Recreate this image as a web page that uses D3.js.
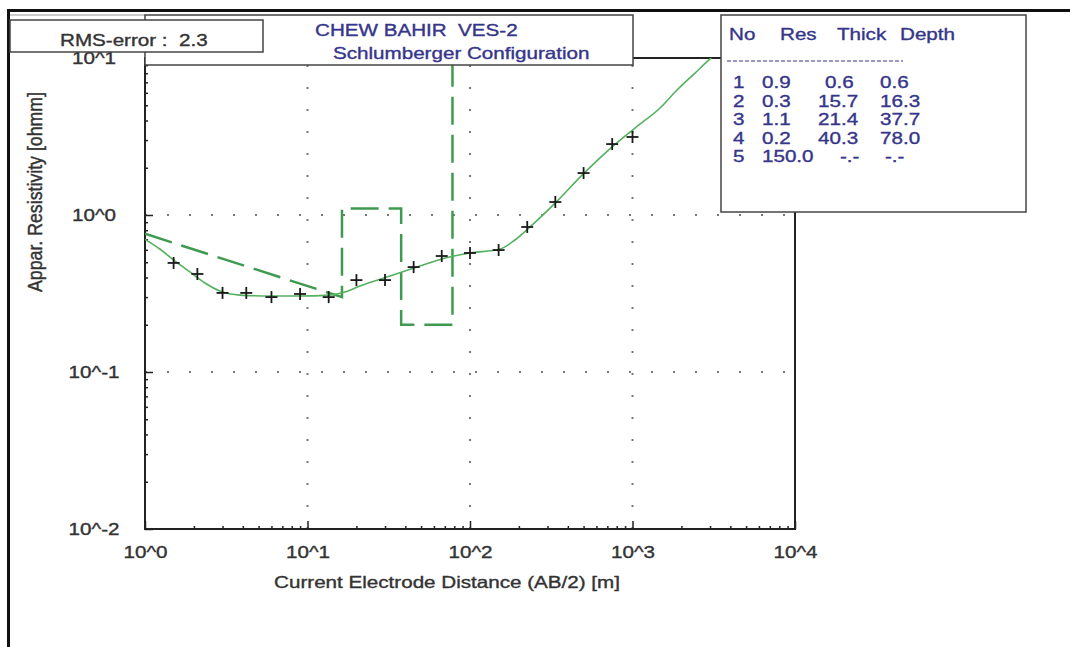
<!DOCTYPE html>
<html lang="en">
<head>
<meta charset="UTF-8">
<title>VES-2</title>
<style>
  body { margin: 0; background: #fff; }
  text { font-family: "Liberation Sans", Arial, sans-serif; font-size: 16.5px; white-space: pre; stroke-width: 0.35px; }
</style>
</head>
<body>
<svg></svg>
<script src="https://d3js.org/d3.v7.min.js"></script>
<script>
// measured sounding: AB/2 [m] and apparent resistivity [ohmm]
var abDist = [1.5, 2.1, 3, 4.2, 6, 9, 13.5, 20, 30, 45, 67, 100, 150, 225, 335, 500, 750, 1000];
var appRes = [0.495, 0.421, 0.319, 0.319, 0.300, 0.314, 0.300, 0.385, 0.385, 0.466, 0.548, 0.573, 0.598, 0.839, 1.21, 1.85, 2.83, 3.14];

// calculated model curve
var fitDist = [1, 1.24, 1.53, 1.89, 2.34, 2.89, 3.84, 5.88, 9, 13.7, 17, 21, 32.2, 49.2, 70.2, 100, 153, 189, 234, 334, 496, 759, 1036, 1477, 1879, 2426, 3000, 3710];
var fitRes = [0.70, 0.605, 0.509, 0.434, 0.369, 0.328, 0.309, 0.305, 0.305, 0.309, 0.323, 0.353, 0.409, 0.473, 0.532, 0.573, 0.607, 0.693, 0.839, 1.19, 1.82, 2.75, 3.58, 4.80, 6.25, 8.02, 9.86, 11.9];

// layer table
var layerNo = [1, 2, 3, 4, 5];
var layerRes = [0.9, 0.3, 1.1, 0.2, 150.0];
var layerThick = [0.6, 15.7, 21.4, 40.3, null];
var layerDepth = [0.6, 16.3, 37.7, 78.0, null];

var xMajor = [1, 10, 100, 1000, 10000];
var yMajor = [0.01, 0.1, 1, 10];
var rmsError = 2.3;

var W = 1070, H = 647;
var svg = d3.select('svg').attr('width', W).attr('height', H);
svg.append('rect').attr('width', W).attr('height', H).attr('fill', '#fff');

var pL = 145, pR = 795, pT = 58, pB = 529;
var x = d3.scaleLog().domain([1, 10000]).range([pL, pR]);
var y = d3.scaleLog().domain([0.01, 10]).range([pB, pT]);

var ink = '#333', navy = '#35358a';
var SX = 'scale(1.25,1)';

function txt(g, tx, ty, s, anchor, color) {
    return g.append('text')
        .attr('transform', 'translate(' + tx + ',' + ty + ') ' + SX)
        .attr('text-anchor', anchor || 'start')
        .attr('fill', color || ink).attr('stroke', color || ink)
        .text(s);
}

// outer window frame
svg.append('line').attr('x1', 8).attr('x2', W).attr('y1', 10.5).attr('y2', 10.5).attr('stroke', '#111').attr('stroke-width', 3);
svg.append('line').attr('x1', 8.5).attr('x2', 8.5).attr('y1', 9).attr('y2', H).attr('stroke', '#111').attr('stroke-width', 3);
svg.append('line').attr('x1', 10).attr('x2', pL).attr('y1', 15).attr('y2', 15).attr('stroke', '#999').attr('stroke-width', 1);

// dotted grid
var grid = svg.append('g').attr('stroke', '#777').attr('stroke-width', 2).attr('stroke-dasharray', '2,20');
grid.selectAll('.gx').data(xMajor.slice(1, -1)).enter().append('line')
    .attr('x1', d => x(d)).attr('x2', d => x(d)).attr('y1', pB).attr('y2', pT);
grid.selectAll('.gy').data(yMajor.slice(1, -1)).enter().append('line')
    .attr('x1', pL).attr('x2', pR).attr('y1', d => y(d)).attr('y2', d => y(d));

// minor ticks
var xMinor = x.ticks().filter(d => xMajor.indexOf(d) < 0);
var yMinor = y.ticks().filter(d => yMajor.indexOf(d) < 0);

var xm = svg.append('g').attr('transform', 'translate(0,' + pB + ')')
    .call(d3.axisBottom(x).tickValues(xMinor).tickSizeInner(-3).tickSizeOuter(0).tickFormat(''));
var ym = svg.append('g').attr('transform', 'translate(' + pL + ',0)')
    .call(d3.axisLeft(y).tickValues(yMinor).tickSizeInner(-3).tickSizeOuter(0).tickFormat(''));

var fmt = d => '10^' + Math.round(Math.log10(d));
var xa = svg.append('g').attr('transform', 'translate(0,' + pB + ')')
    .call(d3.axisBottom(x).tickValues(xMajor).tickSizeInner(-8).tickSizeOuter(0).tickPadding(17).tickFormat(fmt));
var ya = svg.append('g').attr('transform', 'translate(' + pL + ',0)')
    .call(d3.axisLeft(y).tickValues(yMajor).tickSizeInner(-8).tickSizeOuter(0).tickFormat(fmt));

[xm, ym, xa, ya].forEach(g => {
    g.select('.domain').remove();
    g.selectAll('line').attr('stroke', '#222').attr('stroke-width', 1.5);
    g.selectAll('text').attr('font-family', null).attr('font-size', null).attr('fill', ink).attr('stroke', ink);
});
xa.selectAll('text').attr('transform', SX);
ya.selectAll('text').attr('text-anchor', 'middle').attr('x', -51 / 1.25).attr('dy', '0.36em').attr('transform', SX);

// plot frame
svg.append('rect').attr('x', pL).attr('y', pT).attr('width', pR - pL).attr('height', pB - pT)
    .attr('fill', 'none').attr('stroke', '#222').attr('stroke-width', 2);

// curves, clipped to plot
svg.append('clipPath').attr('id', 'clip').append('rect')
    .attr('x', pL).attr('y', pT).attr('width', pR - pL).attr('height', pB - pT);
var plot = svg.append('g').attr('clip-path', 'url(#clip)');

// interpreted layer model (dashed)
var model = [[layerDepth[0], layerRes[0]]];
for (var i = 1; i < layerNo.length - 1; i++) {
    model.push([layerDepth[i], layerRes[i]]);
    model.push([layerDepth[i], layerRes[i + 1]]);
}
plot.append('path').datum(model)
    .attr('d', d3.line().x(d => x(d[0])).y(d => y(d[1])))
    .attr('fill', 'none').attr('stroke', '#3f9a50').attr('stroke-width', 2.5).attr('stroke-dasharray', '28,10');

// calculated curve
plot.append('path').datum(fitDist.map((d, i) => [d, fitRes[i]]))
    .attr('d', d3.line().x(d => x(d[0])).y(d => y(d[1])).curve(d3.curveMonotoneX))
    .attr('fill', 'none').attr('stroke', '#55b060').attr('stroke-width', 1.6);

// field data crosses
var crosses = svg.append('g').attr('stroke', '#1a1a1a').attr('stroke-width', 1.8);
abDist.forEach((d, i) => {
    var cx = x(d), cy = y(appRes[i]);
    crosses.append('line').attr('x1', cx - 6).attr('x2', cx + 6).attr('y1', cy).attr('y2', cy);
    crosses.append('line').attr('x1', cx).attr('x2', cx).attr('y1', cy - 6).attr('y2', cy + 6);
});

// axis titles
txt(svg, 447, 588, 'Current Electrode Distance (AB/2) [m]', 'middle');
svg.append('text').attr('transform', 'translate(42,192) rotate(-90) scale(1,1.25)')
    .attr('text-anchor', 'middle').attr('fill', ink).attr('stroke', ink)
    .attr('textLength', 200).attr('lengthAdjust', 'spacingAndGlyphs')
    .text('Appar. Resistivity [ohmm]');

// title box
svg.append('rect').attr('x', 145).attr('y', 15).attr('width', 488).attr('height', 50)
    .attr('fill', '#fff').attr('stroke', '#444').attr('stroke-width', 1.5);
txt(svg, 315, 36, 'CHEW BAHIR  VES-2', 'start', navy);
txt(svg, 333, 59, 'Schlumberger Configuration', 'start', navy);

// RMS box
svg.append('rect').attr('x', 10).attr('y', 20).attr('width', 253).attr('height', 32)
    .attr('fill', '#fff').attr('stroke', '#444').attr('stroke-width', 1.5);
txt(svg, 60, 46, 'RMS-error :  ' + rmsError.toFixed(1));

// layer table box
svg.append('rect').attr('x', 721).attr('y', 15).attr('width', 305).attr('height', 197)
    .attr('fill', '#fff').attr('stroke', '#444').attr('stroke-width', 1.5);
txt(svg, 729, 40, 'No', 'start', navy);
txt(svg, 780, 40, 'Res', 'start', navy);
txt(svg, 837, 40, 'Thick', 'start', navy);
txt(svg, 900, 40, 'Depth', 'start', navy);
svg.append('line').attr('x1', 727).attr('x2', 903).attr('y1', 61).attr('y2', 61)
    .attr('stroke', navy).attr('stroke-width', 1.2).attr('stroke-dasharray', '4,2');
layerNo.forEach((n, i) => {
    var by = 88 + i * 18.5;
    txt(svg, 733, by, String(n), 'start', navy);
    txt(svg, 762, by, layerRes[i].toFixed(1), 'start', navy);
    var th = layerThick[i] == null ? '-.-' : layerThick[i].toFixed(1);
    var dp = layerDepth[i] == null ? '-.-' : layerDepth[i].toFixed(1);
    txt(svg, th.length < 4 ? (th === '-.-' ? 840 : 825) : 818, by, th, 'start', navy);
    txt(svg, dp === '-.-' ? 885 : 880, by, dp, 'start', navy);
});
</script>
</body>
</html>
